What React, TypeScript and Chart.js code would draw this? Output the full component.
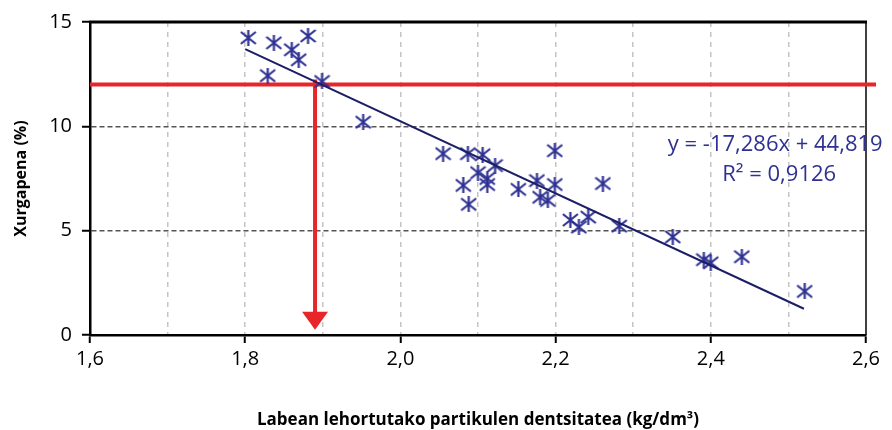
import React, { useEffect, useRef } from 'react';
import { Chart, registerables } from 'chart.js';

Chart.register(...registerables);

// ---- data ----
const densityX = [
  1.804, 1.837, 1.86, 1.869, 1.881, 1.829, 1.899, 1.952,
  2.055, 2.087, 2.106, 2.122, 2.1, 2.081, 2.112, 2.112, 2.088,
  2.152, 2.176, 2.199, 2.199, 2.18, 2.19, 2.219, 2.23, 2.242,
  2.261, 2.282, 2.351, 2.391, 2.4, 2.44, 2.521,
];
const absorptionY = [
  14.24, 14.0, 13.67, 13.19, 14.33, 12.43, 12.15, 10.2,
  8.69, 8.69, 8.64, 8.12, 7.78, 7.17, 7.5, 7.21, 6.26,
  6.98, 7.4, 7.21, 8.83, 6.6, 6.45, 5.51, 5.17, 5.65,
  7.26, 5.22, 4.7, 3.61, 3.46, 3.75, 2.09,
];
const trendSlope = -17.286;
const trendIntercept = 44.819;
const trendRange = [1.8, 2.52];
const refAbsorption = 12;
const refDensity = 1.89;
const arrowTip = 0.25;
const equationText = ['y = -17,286x + 44,819', 'R² = 0,9126'];
const equationPos = { x: 2.483, y1: 9.11, y2: 7.69 };
const xTitle = 'Labean lehortutako partikulen dentsitatea (kg/dm³)';
const yTitle = 'Xurgapena (%)';
const xMin = 1.6, xMax = 2.6, xStep = 0.1;
const yMin = 0, yMax = 15, yStep = 5;

const NAVY = '#2e3192';
const LINE = '#1c1f66';
const RED = '#e8262a';
const FONT = "'Open Sans', sans-serif";

function makeMarker(): HTMLCanvasElement {
  const c = document.createElement('canvas');
  c.width = 17;
  c.height = 16;
  const g = c.getContext('2d')!;
  g.strokeStyle = NAVY;
  g.lineWidth = 2.2;
  g.lineCap = 'butt';
  g.beginPath();
  g.moveTo(1, 2); g.lineTo(16, 14);
  g.moveTo(1, 14); g.lineTo(16, 2);
  g.moveTo(8.5, 0); g.lineTo(8.5, 16);
  g.stroke();
  return c;
}

const overlayPlugin = {
  id: 'overlay',
  beforeDatasetsDraw(chart: any) {
    const { ctx, chartArea, scales } = chart;
    const xs = scales.x, ys = scales.y;
    ctx.save();
    // frame top & right
    ctx.strokeStyle = '#000';
    ctx.lineWidth = 3;
    ctx.beginPath();
    ctx.moveTo(chartArea.left - 1, ys.getPixelForValue(yMax));
    ctx.lineTo(chartArea.right + 1, ys.getPixelForValue(yMax));
    ctx.stroke();
    ctx.lineWidth = 1.5;
    ctx.beginPath();
    ctx.moveTo(xs.getPixelForValue(xMax), chartArea.top);
    ctx.lineTo(xs.getPixelForValue(xMax), chartArea.bottom);
    ctx.stroke();

    // red reference lines
    const py = ys.getPixelForValue(refAbsorption);
    const px = xs.getPixelForValue(refDensity);
    const tip = ys.getPixelForValue(arrowTip);
    ctx.strokeStyle = RED;
    ctx.lineWidth = 4;
    ctx.beginPath();
    ctx.moveTo(chartArea.left, py);
    ctx.lineTo(chartArea.right + 10, py);
    ctx.stroke();
    ctx.beginPath();
    ctx.moveTo(px, py - 5);
    ctx.lineTo(px, tip - 14);
    ctx.stroke();
    ctx.fillStyle = RED;
    ctx.beginPath();
    ctx.moveTo(px - 13, tip - 18);
    ctx.lineTo(px + 13, tip - 18);
    ctx.lineTo(px, tip);
    ctx.closePath();
    ctx.fill();
    ctx.restore();
  },
  afterDraw(chart: any) {
    const { ctx, scales } = chart;
    const xs = scales.x, ys = scales.y;
    ctx.save();
    ctx.fillStyle = NAVY;
    ctx.font = `22px ${FONT}`;
    ctx.textAlign = 'center';
    ctx.textBaseline = 'middle';
    const cx = xs.getPixelForValue(equationPos.x);
    ctx.fillText(equationText[0], cx, ys.getPixelForValue(equationPos.y1));
    ctx.fillText(equationText[1], cx + 4, ys.getPixelForValue(equationPos.y2));
    ctx.restore();
  },
};

export default function App() {
  const ref = useRef<HTMLCanvasElement | null>(null);
  useEffect(() => {
    if (!ref.current) return;
    const marker = makeMarker();
    const points = densityX.map((x, i) => ({ x, y: absorptionY[i] }));
    const trend = trendRange.map((x) => ({ x, y: trendSlope * x + trendIntercept }));
    const isEdgeX = (v: number) => Math.abs(v - xMin) < 1e-6 || Math.abs(v - xMax) < 1e-6;
    const isMajorX = (v: number) => Math.round(v * 10) % 2 === 0;
    const chart = new Chart(ref.current, {
      type: 'scatter',
      data: {
        datasets: [
          {
            type: 'line',
            data: trend,
            borderColor: LINE,
            borderWidth: 2,
            pointRadius: 0,
            fill: false,
          } as any,
          {
            data: points,
            pointStyle: marker as any,
            pointRadius: 8,
            backgroundColor: NAVY,
            borderColor: NAVY,
          },
        ],
      },
      options: {
        animation: false,
        responsive: true,
        maintainAspectRatio: false,
        layout: { padding: { top: 19, right: 26, left: 0, bottom: 0 } },
        plugins: { legend: { display: false }, tooltip: { enabled: false } },
        scales: {
          x: {
            type: 'linear',
            min: xMin,
            max: xMax,
            afterFit: (s: any) => { s.height = 95; },
            ticks: {
              stepSize: xStep,
              autoSkip: false,
              maxRotation: 0,
              color: '#000',
              padding: 4,
              font: { family: FONT, size: 20 },
              callback: (v: any) => {
                const n = Number(v);
                return isMajorX(n) ? n.toFixed(1).replace('.', ',') : '';
              },
            },
            grid: {
              color: (c: any) => (c.tick && !isEdgeX(c.tick.value) ? '#c4c4c4' : 'rgba(0,0,0,0)'),
              lineWidth: 1.5,
              tickLength: 8,
              tickWidth: 2,
              tickColor: (c: any) => (c.tick && isMajorX(c.tick.value) ? '#000' : 'rgba(0,0,0,0)'),
            },
            border: { color: '#000', width: 2.5, dash: [5, 5] },
            title: {
              display: true,
              text: xTitle,
              color: '#000',
              font: { family: FONT, size: 17, weight: 'bold' },
              padding: { top: 12, bottom: 0 },
            },
          },
          y: {
            type: 'linear',
            min: yMin,
            max: yMax,
            afterFit: (s: any) => { s.width = 90; },
            ticks: {
              stepSize: yStep,
              color: '#000',
              padding: 10,
              font: { family: FONT, size: 20 },
            },
            grid: {
              color: (c: any) =>
                c.tick && c.tick.value !== yMin && c.tick.value !== yMax ? '#555' : 'rgba(0,0,0,0)',
              lineWidth: 1.5,
              tickLength: 8,
              tickWidth: 2,
              tickColor: '#000',
            },
            border: { color: '#000', width: 2.5, dash: [5, 3] },
            title: {
              display: true,
              text: yTitle,
              color: '#000',
              font: { family: FONT, size: 16, weight: 'bold' },
              padding: { top: 12, bottom: 0 },
            },
          },
        },
      },
      plugins: [overlayPlugin],
    });
    return () => chart.destroy();
  }, []);
  return (
    <div style={{ position: 'absolute', left: 0, top: 0, width: 892, height: 430, background: '#fff' }}>
      <canvas ref={ref} />
    </div>
  );
}
